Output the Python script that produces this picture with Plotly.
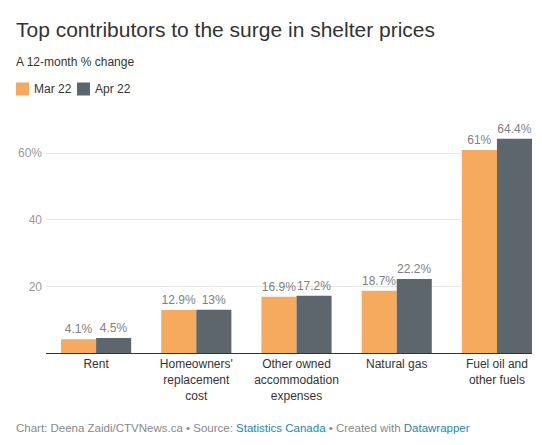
import plotly.graph_objects as go

# categories and values (12-month % change)
categories = ["Rent", "Homeowners'<br>replacement<br>cost", "Other owned<br>accommodation<br>expenses",
              "Natural gas", "Fuel oil and<br>other fuels"]
mar22 = [4.1, 12.9, 16.9, 18.7, 61]
apr22 = [4.5, 13, 17.2, 22.2, 64.4]
series_names = ["Mar 22", "Apr 22"]
tick_vals = [20, 40, 60]
tick_text = ["20", "40", "60%"]

ORANGE = "#f6aa5d"
GREY = "#5d656d"
FONT = "Arial, Liberation Sans, sans-serif"

# plot area in pixels: x 46..532, y 120..353
PL, PW, PB, PH = 46, 486, 353, 233


def px_x(p):
    return (p - PL) / PW


def px_y(p):
    return (PB - p) / PH


fig = go.Figure()
for name, vals, col in [(series_names[0], mar22, ORANGE), (series_names[1], apr22, GREY)]:
    fig.add_trace(go.Bar(
        x=categories, y=vals, name=name, marker_color=col, marker_line_width=0,
        text=[f"{v:g}%" for v in vals], textposition="outside",
        textfont=dict(size=12, color="#808080", family=FONT),
        cliponaxis=False, hoverinfo="skip", showlegend=False,
    ))

fig.update_layout(
    width=542, height=445,
    margin=dict(l=46, r=10, t=120, b=92, autoexpand=False),
    paper_bgcolor="white", plot_bgcolor="white",
    font=dict(family=FONT, color="#333333"),
    barmode="group", bargap=0.3, bargroupgap=0,
    title=dict(text="Top contributors to the surge in shelter prices",
               x=16 / 542, xref="container", xanchor="left",
               y=1 - 22 / 445, yref="container", yanchor="top",
               font=dict(size=21, color="#333333", family=FONT)),
    xaxis=dict(range=[-0.5, 4.35], showline=True, linecolor="#333333", linewidth=1,
               tickfont=dict(size=12, color="#333333", family=FONT), ticks="",
               showgrid=False, fixedrange=True, automargin=False),
    yaxis=dict(range=[0, 70], tickvals=tick_vals, ticktext=tick_text,
               tickfont=dict(size=12, color="#999999", family=FONT),
               gridcolor="#e6e6e6", gridwidth=1, zeroline=False, ticks="",
               ticklabelstandoff=3, fixedrange=True, automargin=False),
)

# legend row (swatch + label), laid out like the original
for (sx, tx), name, col in zip([(16, 33), (77, 94)], series_names, [ORANGE, GREY]):
    fig.add_shape(type="rect", xref="paper", yref="paper",
                  x0=px_x(sx), x1=px_x(sx + 13), y0=px_y(95.5), y1=px_y(82.5),
                  fillcolor=col, line_width=0)
    fig.add_annotation(text=name, xref="paper", yref="paper",
                       x=px_x(tx - 1), y=px_y(89), xanchor="left", yanchor="middle",
                       showarrow=False, font=dict(size=12, color="#333333", family=FONT))

fig.add_annotation(text="A 12-month % change", xref="paper", yref="paper",
                   x=px_x(14), y=px_y(62), xanchor="left", yanchor="middle",
                   showarrow=False, font=dict(size=12, color="#333333", family=FONT))

fig.add_annotation(
    text=("Chart: Deena Zaidi/CTVNews.ca • Source: "
          "<span style='color:#1d86b8'>Statistics Canada</span> • Created with "
          "<span style='color:#1d86b8'>Datawrapper</span>"),
    xref="paper", yref="paper", x=px_x(14), y=px_y(428),
    xanchor="left", yanchor="middle", showarrow=False,
    font=dict(size=11.5, color="#888888", family=FONT))

# drop the browser's default body margin so the figure sits at the page corner
fig.write_html("out.html", config={"displayModeBar": False},
               post_script="document.body.style.margin='0';")
